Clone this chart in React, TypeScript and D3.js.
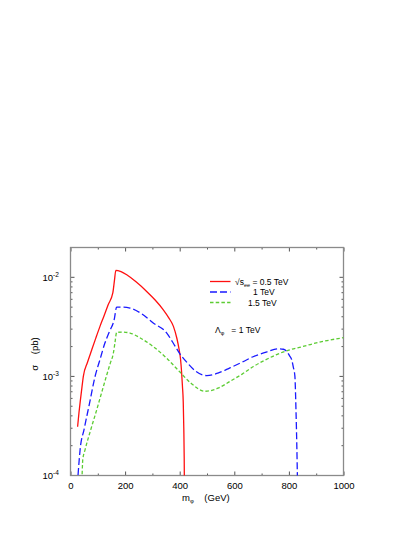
import * as d3 from 'd3';
import React, { useRef, useEffect } from 'react';

// sqrt(s) = 0.5 TeV
const massRed = [26, 31, 36, 42, 47, 62, 78, 93, 108, 123, 138, 155, 161, 166, 185, 206, 240, 279, 310, 340, 360, 377, 390, 398, 403, 407, 410, 413, 415, 416.5, 417.5];
const sigmaRed = [3.1e-4, 4.3e-4, 5.7e-4, 7.8e-4, 1.0e-3, 1.38e-3, 1.86e-3, 2.45e-3, 3.2e-3, 4.1e-3, 5.3e-3, 6.95e-3, 9.3e-3, 1.175e-2, 1.14e-2, 1.06e-2, 9.0e-3, 7.2e-3, 5.9e-3, 4.7e-3, 3.9e-3, 3.2e-3, 2.4e-3, 1.86e-3, 1.5e-3, 1.1e-3, 8e-4, 5.5e-4, 3e-4, 1.5e-4, 6e-5];

// sqrt(s) = 1 TeV
const massBlue = [25, 32, 35, 50, 70, 90, 108, 126, 143, 160, 169, 190, 218, 260, 303, 352, 375, 400, 430, 460, 499, 540, 584, 630, 669, 720, 761, 780, 792, 802, 810, 816, 822, 826, 829, 831, 832.5];
const sigmaBlue = [8e-5, 1.45e-4, 1.8e-4, 2.94e-4, 5.4e-4, 1.0e-3, 1.48e-3, 2.17e-3, 2.85e-3, 3.74e-3, 5.0e-3, 5.0e-3, 4.9e-3, 4.3e-3, 3.46e-3, 2.75e-3, 2.2e-3, 1.7e-3, 1.35e-3, 1.12e-3, 1.02e-3, 1.08e-3, 1.22e-3, 1.4e-3, 1.58e-3, 1.77e-3, 1.9e-3, 1.88e-3, 1.79e-3, 1.62e-3, 1.48e-3, 1.25e-3, 1.0e-3, 4.5e-4, 2e-4, 1e-4, 5e-5];

// sqrt(s) = 1.5 TeV
const massGreen = [42, 45, 53, 75, 96, 115, 133, 145, 157, 163, 169, 190, 218, 260, 303, 352, 399, 440, 493, 540, 584, 630, 670, 710, 755, 804, 850, 889, 940, 1000];
const sigmaGreen = [9e-5, 1.45e-4, 1.8e-4, 2.95e-4, 4.6e-4, 7e-4, 1.04e-3, 1.34e-3, 1.72e-3, 2.2e-3, 2.78e-3, 2.8e-3, 2.74e-3, 2.4e-3, 2.0e-3, 1.53e-3, 1.12e-3, 8.6e-4, 7.08e-4, 7.6e-4, 8.9e-4, 1.06e-3, 1.26e-3, 1.45e-3, 1.66e-3, 1.86e-3, 2.0e-3, 2.14e-3, 2.3e-3, 2.46e-3];

const xMajor = [0, 200, 400, 600, 800, 1000];
const xMinor = [100, 300, 500, 700, 900];
const yDecades = [1e-4, 1e-3, 1e-2];
const yExponents = ['-4', '-3', '-2'];

const legendLabels = ['0.5 TeV', '1 TeV', '1.5 TeV'];

const App = () => {
  const ref = useRef<SVGSVGElement>(null);

  const margin = { top: 247.5, left: 70.5 };
  const width = 273, height = 228;

  useEffect(() => {
    const svg = d3.select(ref.current);
    svg.selectAll('*').remove();
    const font = 'Liberation Sans, Arial, Helvetica, sans-serif';

    const x = d3.scaleLinear().domain([0, 1000]).range([margin.left, margin.left + width]);
    const y = d3.scaleLog().domain([1e-4, 2e-2]).range([margin.top + height, margin.top]);

    const yMinor: number[] = [];
    [1e-4, 1e-3, 1e-2].forEach((d) => {
      for (let k = 2; k <= 9; k++) if (d * k < 2e-2) yMinor.push(d * k);
    });

    // clip
    svg.append('defs').append('clipPath').attr('id', 'plotclip')
      .append('rect')
      .attr('x', margin.left).attr('y', margin.top)
      .attr('width', width).attr('height', height);

    const tickCol = '#555';
    // bottom / top ticks (inward)
    svg.append('g').attr('transform', 'translate(0,' + (margin.top + height) + ')')
      .call(d3.axisBottom(x).tickValues(xMajor).tickSize(-4).tickPadding(7).tickFormat(d3.format('d')))
      .call((g) => g.select('.domain').remove())
      .call((g) => g.selectAll('line').attr('stroke', tickCol))
      .call((g) => g.selectAll('text').attr('font-size', 9.5).attr('font-family', font).attr('fill', '#000'));
    svg.append('g').attr('transform', 'translate(0,' + (margin.top + height) + ')')
      .call(d3.axisBottom(x).tickValues(xMinor).tickSize(-2).tickFormat(() => ''))
      .call((g) => g.select('.domain').remove())
      .call((g) => g.selectAll('line').attr('stroke', tickCol));
    svg.append('g').attr('transform', 'translate(0,' + margin.top + ')')
      .call(d3.axisTop(x).tickValues(xMajor).tickSize(-4).tickFormat(() => ''))
      .call((g) => g.select('.domain').remove())
      .call((g) => g.selectAll('line').attr('stroke', tickCol));
    svg.append('g').attr('transform', 'translate(0,' + margin.top + ')')
      .call(d3.axisTop(x).tickValues(xMinor).tickSize(-2).tickFormat(() => ''))
      .call((g) => g.select('.domain').remove())
      .call((g) => g.selectAll('line').attr('stroke', tickCol));

    // left / right ticks
    [[margin.left, 1], [margin.left + width, -1]].forEach(([px, dir]) => {
      svg.append('g').selectAll('line.maj').data(yDecades).enter().append('line')
        .attr('x1', px).attr('x2', px + dir * 4)
        .attr('y1', (d) => y(d)).attr('y2', (d) => y(d))
        .attr('stroke', tickCol);
      svg.append('g').selectAll('line.min').data(yMinor).enter().append('line')
        .attr('x1', px).attr('x2', px + dir * 2)
        .attr('y1', (d) => y(d)).attr('y2', (d) => y(d))
        .attr('stroke', tickCol);
    });

    // y tick labels 10^n
    const yl = svg.append('g').selectAll('text').data(yDecades).enter().append('text')
      .attr('x', 42.5).attr('y', (d) => y(d) + 3.5)
      .attr('font-family', font).attr('font-size', 9.5);
    yl.append('tspan').text('10');
    yl.append('tspan').attr('dy', -4).attr('font-size', 6.5).text((d, i) => yExponents[i]);

    // frame
    svg.append('rect')
      .attr('x', margin.left).attr('y', margin.top)
      .attr('width', width).attr('height', height)
      .attr('fill', 'none').attr('stroke', '#8a8a8a').attr('stroke-width', 1.3);

    // curves
    const line = d3.line<[number, number]>()
      .x((d) => x(d[0]))
      .y((d) => y(d[1]))
      .curve(d3.curveMonotoneX);
    const plot = svg.append('g').attr('clip-path', 'url(#plotclip)');
    const series = [
      { m: massRed, s: sigmaRed, color: '#ff1010', dash: null as string | null },
      { m: massBlue, s: sigmaBlue, color: '#1a1aff', dash: '7,3' },
      { m: massGreen, s: sigmaGreen, color: '#5ccc33', dash: '3.5,2.2' },
    ];
    series.forEach((se) => {
      plot.append('path')
        .datum(se.m.map((v, i) => [v, se.s[i]] as [number, number]))
        .attr('fill', 'none')
        .attr('stroke', se.color)
        .attr('stroke-width', 1.3)
        .attr('stroke-dasharray', se.dash)
        .attr('d', line);
    });

    // legend
    const ly = [281.5, 292, 302.5];
    series.forEach((se, i) => {
      svg.append('line')
        .attr('x1', 210).attr('x2', 230.5)
        .attr('y1', ly[i]).attr('y2', ly[i])
        .attr('stroke', se.color).attr('stroke-width', 1.3)
        .attr('stroke-dasharray', se.dash);
    });
    const lt = svg.append('text').attr('x', 235).attr('y', ly[0] + 3)
      .attr('font-family', font).attr('font-size', 8.5);
    lt.append('tspan').text('\u221As');
    lt.append('tspan').attr('dy', 2).attr('font-size', 5.5).text('ee');
    lt.append('tspan').attr('dy', -2).text(' = ' + legendLabels[0]);
    svg.append('text').attr('x', 253).attr('y', ly[1] + 3)
      .attr('font-family', font).attr('font-size', 8.5).text(legendLabels[1]);
    svg.append('text').attr('x', 248).attr('y', ly[2] + 3)
      .attr('font-family', font).attr('font-size', 8.5).text(legendLabels[2]);

    const lam = svg.append('text').attr('x', 215).attr('y', 333)
      .attr('font-family', font).attr('font-size', 8.5)
      .style('white-space', 'pre');
    lam.append('tspan').text('\u039B');
    lam.append('tspan').attr('dy', 2).attr('font-size', 5.5).text('\u03C6');
    lam.append('tspan').attr('dy', -2).text('   = 1 TeV');

    // axis titles
    const xt = svg.append('text').attr('x', 182).attr('y', 501)
      .attr('font-family', font).attr('font-size', 9.5)
      .style('white-space', 'pre');
    xt.append('tspan').text('m');
    xt.append('tspan').attr('dy', 2).attr('font-size', 6).text('\u03C6');
    xt.append('tspan').attr('dy', -2).text('    (GeV)');

    svg.append('text')
      .attr('transform', 'translate(38,354) rotate(-90)')
      .attr('text-anchor', 'middle')
      .attr('font-family', font).attr('font-size', 9.5)
      .style('white-space', 'pre')
      .text('\u03C3    (pb)');
  });

  return (
    <svg ref={ref} width={415} height={537}
      style={{ position: 'absolute', left: 0, top: 0, background: '#fff' }}></svg>
  );
};

export default App;
